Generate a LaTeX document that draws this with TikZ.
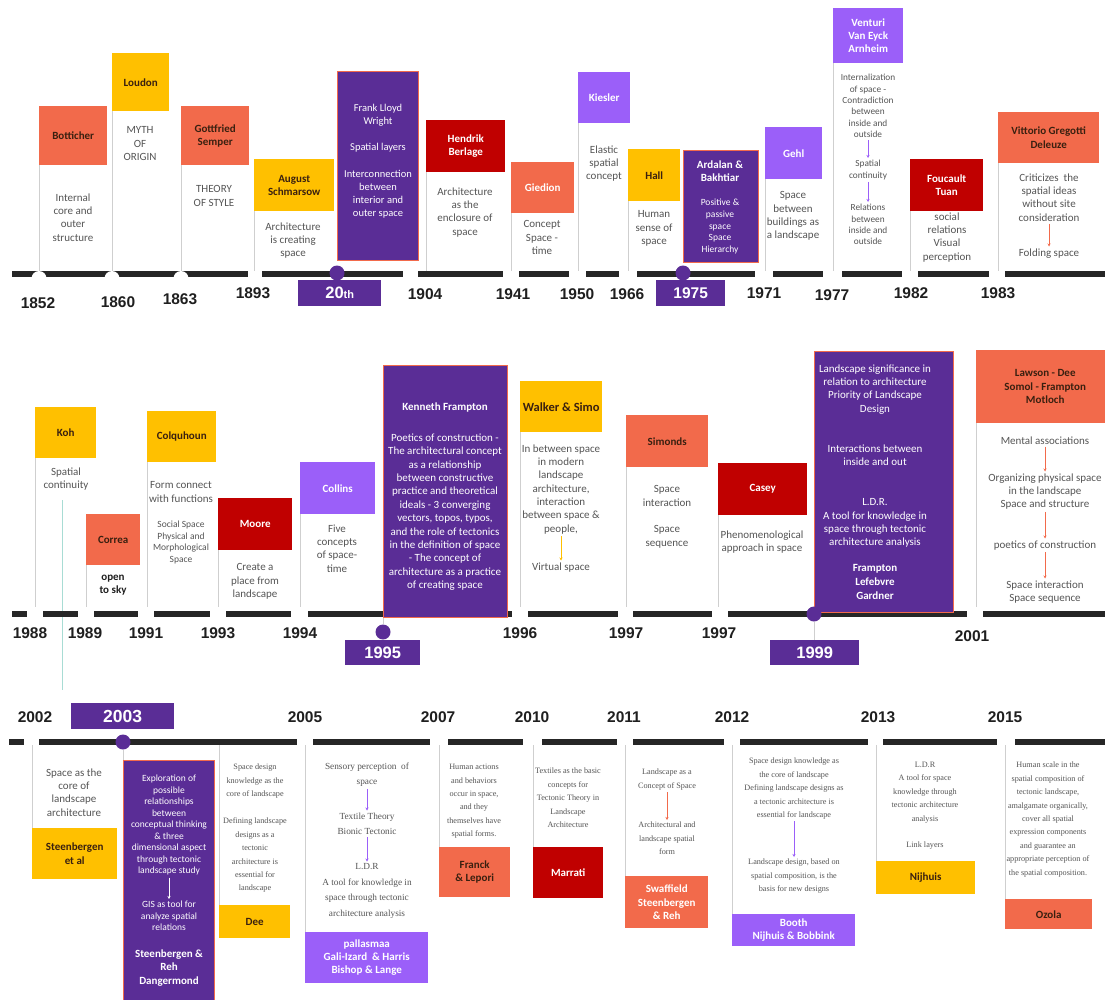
\documentclass[tikz,border=0pt]{standalone}
\usepackage{fontspec}
\setmainfont{Carlito}
\newfontfamily\yrfont{Liberation Sans}
\newfontfamily\srfont{Liberation Serif}
\usetikzlibrary{arrows.meta}
\definecolor{cOr}{HTML}{F26A4B}
\definecolor{cYe}{HTML}{FFC000}
\definecolor{cRd}{HTML}{C00000}
\definecolor{cLp}{HTML}{9B5FF9}
\definecolor{cPu}{HTML}{5A2D96}
\definecolor{cDk}{HTML}{3A2010}
\definecolor{cGy}{HTML}{555555}
\definecolor{cLn}{HTML}{CFCFCF}
\definecolor{cBar}{HTML}{262626}
\definecolor{cYr}{HTML}{1F1F1F}
\definecolor{cTe}{HTML}{A8DCD4}
\tikzset{
 bx/.style={rectangle, anchor=north west, inner sep=0pt, align=center, font=\bfseries\fontsize{11}{13.3}\selectfont},
 nmO/.style={bx, fill=cOr, text=cDk},
 nmOw/.style={bx, fill=cOr, text=white},
 nmY/.style={bx, fill=cYe, text=cDk},
 nmR/.style={bx, fill=cRd, text=white},
 nmL/.style={bx, fill=cLp, text=white},
 nmP/.style={bx, fill=cPu, draw=cOr, line width=1.3pt},
 txtb/.style={anchor=north, inner sep=0pt, align=center, text=cGy, font=\fontsize{11}{13.3}\selectfont},
 stxt/.style={txtb, font=\fontsize{9.5}{11.5}\selectfont},
 wtxt/.style={txtb, text=white},
 srf/.style={txtb, font=\srfont\fontsize{8.2}{13.4}\selectfont},
 srfL/.style={txtb, font=\srfont\fontsize{9.3}{15.5}\selectfont},
 vl/.style={draw=cLn, line width=0.8pt},
 yearlab/.style={anchor=center, inner sep=0pt, font=\yrfont\bfseries\fontsize{15.5}{15.5}\selectfont, text=cYr},
 ylbox/.style={rectangle, anchor=north west, fill=cPu, inner sep=0pt, text=white, font=\yrfont\bfseries\fontsize{16.5}{16.5}\selectfont},
 pdot/.style={circle, fill=cPu, inner sep=0pt, minimum size=15pt},
 sarr/.style={-{Stealth[length=3pt,width=3pt]}, line width=0.5pt, shorten <=2pt, shorten >=2pt},
}
\begin{document}
\begin{tikzpicture}[x=1pt,y=-1pt]
\fill[white] (0,0) rectangle (1105,999);
\useasboundingbox (0,0) rectangle (1105,999);
% ---------- bars ----------
\foreach \a/\b in {12/248,262/403,418/503,519/569,586/619,637/755,773/823,842/902,918/989,1005/1105}
  \fill[cBar] (\a,271) rectangle (\b,277);
\foreach \c in {39,112,181}
  \fill[white] (\c,278.5) circle (7.5pt);
\draw[cTe, line width=0.8pt] (62,500) coordinate (tq1) -- (62,690) coordinate (tq2);
\foreach \a/\b in {12/27,43/78,94/138,154/210,226/291,308/512,528/618,633/712,728/967,983/1105}
  \fill[cBar] (\a,611) rectangle (\b,617);
\foreach \a/\b in {9/24,39/297,313/430,448/523,542/617,633/724,740/868,883/997,1015/1105}
  \fill[cBar] (\a,739) rectangle (\b,745);
\coordinate (r1top) at (0,271);
\coordinate (r2top) at (0,607);
\coordinate (r3bot) at (0,745);

% ---------- row 1 ----------
\node[nmO, minimum width=68pt, minimum height=59pt] (bot) at (39,106) {Botticher};
\node[nmY, minimum width=57pt, minimum height=58pt] (lou) at (112,53) {Loudon};
\node[nmO, minimum width=68pt, minimum height=59pt] (sem) at (181,106) {Gottfried\\Semper};
\node[nmY, minimum width=80pt, minimum height=52pt] (sch) at (254,159) {August\\Schmarsow};
\node[nmP, minimum width=81pt, minimum height=189pt] (flw) at (337,71) {};
\node[nmR, minimum width=79pt, minimum height=52pt] (ber) at (426,120) {Hendrik\\Berlage};
\node[nmOw, minimum width=63pt, minimum height=51pt] (gie) at (511,162) {Giedion};
\node[nmL, minimum width=52pt, minimum height=51pt] (kie) at (578,72) {Kiesler};
\node[nmY, minimum width=52pt, minimum height=52pt] (hal) at (628,149) {Hall};
\node[nmP, minimum width=75pt, minimum height=112pt] (ard) at (683,150) {};
\node[nmL, minimum width=57pt, minimum height=52pt] (geh) at (765,127) {Gehl};
\node[nmL, minimum width=70pt, minimum height=55pt] (ven) at (833,8) {Venturi\\Van Eyck\\Arnheim};
\node[nmR, minimum width=73pt, minimum height=52pt] (fou) at (910,159) {Foucault\\Tuan};
\node[nmO, minimum width=101pt, minimum height=51pt] (vit) at (998,112) {Vittorio Gregotti\\Deleuze};
\foreach \n in {bot,lou,sem,sch,ber,gie,kie,hal,geh,ven,fou,vit}
  \draw[vl] (\n.south west) -- (\n.south west |- r1top);

\node[txtb] (botb) at (73,193.5) {Internal\\core and\\outer\\structure};
\node[txtb] (loub) at (140,126.5) {MYTH\\OF\\ORIGIN};
\node[txtb] (semb) at (214,185.5) {THEORY\\OF STYLE};
\node[txtb] (schb) at (293,222.5) {Architecture\\is creating\\space};
\node[wtxt, font=\fontsize{10.5}{12.7}\selectfont] (flw1) at (378,104.5) {Frank Lloyd\\Wright};
\node[wtxt, font=\fontsize{10.5}{12.7}\selectfont] (flw2) at (378,143.5) {Spatial layers};
\node[wtxt, font=\fontsize{10.5}{12.7}\selectfont] (flw3) at (378,170.5) {Interconnection\\between\\interior and\\outer space};
\node[txtb] (berb) at (465,187.5) {Architecture\\as the\\enclosure of\\space};
\node[txtb] (gieb) at (542,220.5) {Concept\\Space -\\time};
\node[txtb] (kieb) at (604,145.5) {Elastic\\spatial\\concept};
\node[txtb] (halb) at (654,210.5) {Human\\sense of\\space};
\node[wtxt, font=\bfseries\fontsize{11}{13.3}\selectfont] (ard1) at (720,160.5) {Ardalan \&\\Bakhtiar};
\node[wtxt, font=\fontsize{9.5}{11.7}\selectfont] (ard2) at (720,199) {Positive \&\\passive\\space\\Space\\Hierarchy};
\node[txtb] (gehb) at (793,191.5) {Space\\between\\buildings as\\a landscape};
\node[stxt, font=\fontsize{9.3}{11.4}\selectfont] (ven1) at (868,74) {Internalization\\of space -\\Contradiction\\between\\inside and\\outside};
\node[stxt, font=\fontsize{9.3}{11.4}\selectfont] (ven2) at (868,160) {Spatial\\continuity};
\node[stxt, font=\fontsize{9.3}{11.4}\selectfont] (ven3) at (868,204) {Relations\\between\\inside and\\outside};
\draw[sarr, cLp] (ven1.south) -- (ven2.north);
\draw[sarr, cLp] (ven2.south) -- (ven3.north);
\node[txtb] (foub) at (947,212.5) {social\\relations\\Visual\\perception};
\node[txtb] (vit1) at (1049,173.5) {Criticizes\ \ the\\spatial ideas\\without site\\consideration};
\node[txtb] (vit2) at (1049,248.5) {Folding space};
\draw[sarr, cOr] (vit1.south) -- (vit2.north);

\node[yearlab] (y1852) at (38,303) {1852};
\node[yearlab] (y1860) at (118,302) {1860};
\node[yearlab] (y1863) at (180,299) {1863};
\node[yearlab] (y1893) at (253,293) {1893};
\node[yearlab] (y1904) at (425,294) {1904};
\node[yearlab] (y1941) at (513,294) {1941};
\node[yearlab] (y1950) at (577,294) {1950};
\node[yearlab] (y1966) at (627,294) {1966};
\node[yearlab] (y1971) at (764,293) {1971};
\node[yearlab] (y1977) at (832,295) {1977};
\node[yearlab] (y1982) at (911,293) {1982};
\node[yearlab] (y1983) at (998,293) {1983};
\node[ylbox, minimum width=83pt, minimum height=26pt] (l20) at (298,280) {20{\fontsize{11}{11}\selectfont th}};
\node[pdot] (d20) at (337,273) {};
\node[ylbox, minimum width=69pt, minimum height=26pt, font=\yrfont\bfseries\fontsize{15.5}{15.5}\selectfont] (l75) at (656,280) {1975};
\node[pdot] (d75) at (683,273) {};

% ---------- row 2 ----------
\node[nmY, minimum width=61pt, minimum height=51pt] (koh) at (35,407) {Koh};
\node[nmO, minimum width=54pt, minimum height=51pt] (cor) at (86,514) {Correa};
\node[nmY, minimum width=69pt, minimum height=51pt] (col) at (147,411) {Colquhoun};
\node[nmR, minimum width=74pt, minimum height=52pt] (moo) at (218,498) {Moore};
\node[nmL, minimum width=75pt, minimum height=52pt] (cln) at (300,462) {Collins};
\node[nmP, minimum width=124pt, minimum height=252pt] (kfr) at (383,365) {};
\node[nmY, minimum width=82pt, minimum height=51pt, font=\bfseries\fontsize{12.5}{14}\selectfont] (wal) at (520,381) {Walker \& Simo};
\node[nmO, minimum width=82pt, minimum height=52pt] (sim) at (626,415) {Simonds};
\node[nmR, minimum width=89pt, minimum height=52pt] (cas) at (718,463) {Casey};
\node[nmP, minimum width=139pt, minimum height=261pt] (n99) at (814,351) {};
\node[nmO, minimum width=138pt, minimum height=73pt] (law) at (976,350) {Lawson - Dee\\Somol - Frampton\\Motloch};
\foreach \n in {koh,cor,col,moo,cln,wal,sim,cas,law}
  \draw[vl] (\n.south west) -- (\n.south west |- r2top);

\node[txtb] (kohb) at (66,467.5) {Spatial\\continuity};
\node[txtb, text=cYr, font=\bfseries\fontsize{11}{13.3}\selectfont] (corb) at (113,574.5) {open\\to sky};
\node[txtb] (col1) at (181,481.5) {Form connect\\with functions};
\node[stxt] (col2) at (181,521) {Social Space\\Physical and\\Morphological\\Space};
\node[txtb] (moob) at (255,563.5) {Create a\\place from\\landscape};
\node[txtb] (clnb) at (337,524.5) {Five\\concepts\\of space-\\time};
\node[wtxt, font=\bfseries\fontsize{11}{13.3}\selectfont] (kfr1) at (445,402.5) {Kenneth Frampton};
\node[wtxt, font=\fontsize{11}{13.4}\selectfont] (kfr2) at (445,433.5) {Poetics of construction -\\The architectural concept\\as a relationship\\between constructive\\practice and theoretical\\ideals - 3 converging\\vectors, topos, typos,\\and the role of tectonics\\in the definition of space\\- The concept of\\architecture as a practice\\of creating space};
\node[txtb] (wal1) at (561,444.5) {In between space\\in modern\\landscape\\architecture,\\interaction\\between space \&\\people,};
\node[txtb] (wal2) at (561,562.5) {Virtual space};
\draw[sarr, cYe] (wal1.south) -- (wal2.north);
\node[txtb] (sim1) at (667,485.5) {Space\\interaction};
\node[txtb] (sim2) at (667,525.5) {Space\\sequence};
\node[txtb] (casb) at (762,530.5) {Phenomenological\\approach in space};
\node[wtxt] (n991) at (875,364.5) {Landscape significance in\\relation to architecture\\Priority of Landscape\\Design};
\node[wtxt] (n992) at (875,444.5) {Interactions between\\inside and out};
\node[wtxt] (n993) at (875,498.5) {L.D.R.\\A tool for knowledge in\\space through tectonic\\architecture analysis};
\node[wtxt, font=\bfseries\fontsize{11}{13.6}\selectfont] (n994) at (875,564.5) {Frampton\\Lefebvre\\Gardner};
\node[txtb] (law1) at (1045,436.5) {Mental associations};
\node[txtb] (law2) at (1045,473.5) {Organizing physical space\\in the landscape\\Space and structure};
\node[txtb] (law3) at (1045,540.5) {poetics of construction};
\node[txtb] (law4) at (1045,580.5) {Space interaction\\Space sequence};
\draw[sarr, cOr] (law1.south) -- (law2.north);
\draw[sarr, cOr] (law2.south) -- (law3.north);
\draw[sarr, cOr] (law3.south) -- (law4.north);

\node[yearlab] (y1988) at (30,633) {1988};
\node[yearlab] (y1989) at (85,633) {1989};
\node[yearlab] (y1991) at (146,633) {1991};
\node[yearlab] (y1993) at (218,633) {1993};
\node[yearlab] (y1994) at (300,633) {1994};
\node[yearlab] (y1996) at (520,633) {1996};
\node[yearlab] (y1997a) at (626,633) {1997};
\node[yearlab] (y1997b) at (719,633) {1997};
\node[yearlab] (y2001) at (972,636) {2001};
\node[ylbox, minimum width=75pt, minimum height=25pt] (l95) at (345,640) {1995};
\node[pdot] (d95) at (383,632) {};
\draw[vl] (kfr.south west) -- (d95.north);
\node[ylbox, minimum width=89pt, minimum height=25pt] (l99) at (770,640) {1999};
\node[pdot] (d99) at (814,614) {};
\draw[vl] (d99.south) -- (d99.south |- l99.north);

% ---------- row 3 ----------
\node[yearlab] (y2002) at (35,717) {2002};
\node[yearlab] (y2005) at (305,717) {2005};
\node[yearlab] (y2007) at (438,717) {2007};
\node[yearlab] (y2010) at (532,717) {2010};
\node[yearlab] (y2011) at (624,717) {2011};
\node[yearlab] (y2012) at (732,717) {2012};
\node[yearlab] (y2013) at (878,717) {2013};
\node[yearlab] (y2015) at (1005,717) {2015};
\node[ylbox, minimum width=103pt, minimum height=26pt, font=\yrfont\bfseries\fontsize{17.5}{17.5}\selectfont] (l03) at (71,703) {2003};
\node[pdot] (d03) at (123,742) {};

\node[nmY, minimum width=85pt, minimum height=51pt] (ste) at (32,828) {Steenbergen\\et al};
\node[nmP, minimum width=91pt, minimum height=240pt] (srb) at (123,760) {};
\node[nmY, minimum width=71pt, minimum height=33pt] (dee) at (219,905) {Dee};
\node[nmL, minimum width=123pt, minimum height=51pt] (pal) at (305,932) {pallasmaa\\Gali-Izard\ \ \& Harris\\Bishop \& Lange};
\node[nmO, minimum width=71pt, minimum height=50pt] (fra) at (439,847) {Franck\\\& Lepori};
\node[nmR, minimum width=70pt, minimum height=51pt] (mar) at (533,847) {Marrati};
\node[nmOw, minimum width=83pt, minimum height=52pt] (swa) at (625,876) {Swaffield\\Steenbergen\\\& Reh};
\node[nmL, minimum width=123pt, minimum height=32pt] (boo) at (732,914) {Booth\\Nijhuis \& Bobbink};
\node[nmY, minimum width=99pt, minimum height=33pt] (nij) at (876,861) {Nijhuis};
\node[nmO, minimum width=87pt, minimum height=30pt] (ozo) at (1005,899) {Ozola};
\foreach \n in {ste,dee,pal,fra,mar,swa,boo,nij,ozo}
  \draw[vl] (\n.north west |- r3bot) -- (\n.north west);
\draw[vl] (d03.south) -- (d03.south |- srb.north);

\node[txtb] (steb) at (74,768.5) {Space as the\\core of\\landscape\\architecture};
\node[wtxt, font=\fontsize{9.5}{11.5}\selectfont] (sr1) at (169,775) {Exploration of\\possible\\relationships\\between\\conceptual thinking\\\& three\\dimensional aspect\\through tectonic\\landscape study};
\node[wtxt, font=\fontsize{9.5}{11.5}\selectfont] (sr2) at (169,901) {GIS as tool for\\analyze spatial\\relations};
\draw[sarr, white] (sr1.south) -- (sr2.north);
\node[wtxt, font=\bfseries\fontsize{11}{13.4}\selectfont] (sr3) at (169,949.5) {Steenbergen \&\\Reh\\Dangermond};
\node[srf] (dee1) at (255,764) {Space design\\knowledge as the\\core of landscape};
\node[srf] (dee2) at (255,818) {Defining landscape\\designs as a\\tectonic\\architecture is\\essential for\\landscape};
\node[srfL] (pal1) at (367,762.5) {Sensory perception\ \ of\\space};
\node[srfL] (pal2) at (367,812.5) {Textile Theory\\Bionic Tectonic};
\node[srfL] (pal3) at (367,863.5) {L.D.R\\A tool for knowledge in\\space through tectonic\\architecture analysis};
\draw[sarr, cLp] (pal1.south) -- (pal2.north);
\draw[sarr, cLp] (pal2.south) -- (pal3.north);
\node[srf] (frab) at (474,764) {Human actions\\and behaviors\\occur in space,\\and they\\themselves have\\spatial forms.};
\node[srf] (marb) at (568,768) {Textiles as the basic\\concepts for\\Tectonic Theory in\\Landscape\\Architecture};
\node[srf] (swa1) at (667,769) {Landscape as a\\Concept of Space};
\node[srf] (swa2) at (667,822) {Architectural and\\landscape spatial\\form};
\draw[sarr, cOr] (swa1.south) -- (swa2.north);
\node[srf] (boo1) at (794,758) {Space design knowledge as\\the core of landscape\\Defining landscape designs as\\a tectonic architecture is\\essential for landscape};
\node[srf] (boo2) at (794,859) {Landscape design, based on\\spatial composition, is the\\basis for new designs};
\draw[sarr, cLp] (boo1.south) -- (boo2.north);
\node[srf] (nij1) at (925,762) {L.D.R\\A tool for space\\knowledge through\\tectonic architecture\\analysis};
\node[srf] (nij2) at (925,842) {Link layers};
\node[srf] (ozob) at (1048,762) {Human scale in the\\spatial composition of\\tectonic landscape,\\amalgamate organically,\\cover all spatial\\expression components\\and guarantee an\\appropriate perception of\\the spatial composition.};
\end{tikzpicture}
\end{document}
